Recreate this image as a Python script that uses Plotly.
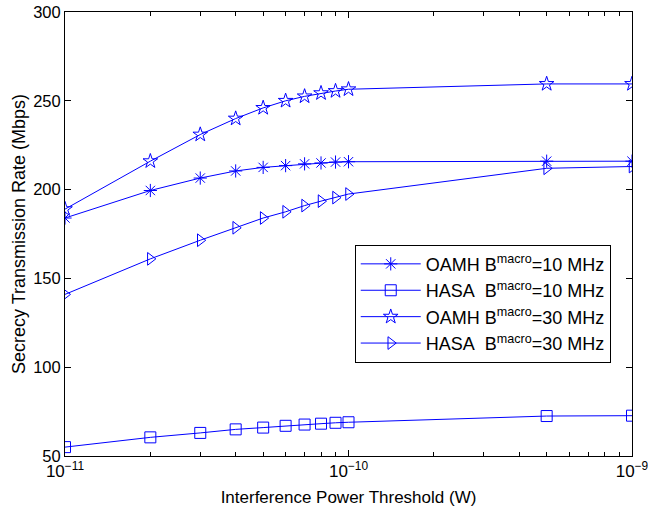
import plotly.graph_objects as go

x = [1e-11, 2e-11, 3e-11, 4e-11, 5e-11, 6e-11, 7e-11, 8e-11, 9e-11, 1e-10, 5e-10, 1e-9]
oamh10 = [184, 199.5, 206.5, 210.5, 212.5, 213.5, 214.5, 215, 215.5, 215.7, 216, 216]
hasa10 = [55, 60.5, 63, 65, 66, 67, 67.7, 68.2, 68.7, 69, 72.5, 72.7]
oamh30 = [189, 216, 231, 240, 246, 250, 252.5, 254.3, 255.5, 256.5, 259.5, 259.5]
hasa30 = [141, 161, 171.5, 178.5, 184, 187.5, 191, 193.5, 195.5, 197.5, 212, 213]

names = ["OAMH B<sup>macro</sup>=10 MHz", "HASA&nbsp; B<sup>macro</sup>=10 MHz",
         "OAMH B<sup>macro</sup>=30 MHz", "HASA&nbsp; B<sup>macro</sup>=30 MHz"]
symbols = ["asterisk-open", "square-open", "star-open", "triangle-right-open"]
series = [oamh10, hasa10, oamh30, hasa30]

xticks = [1e-11, 1e-10, 1e-9]
xticktext = ["10<sup>\u221211</sup>", "10<sup>\u221210</sup>", "10<sup>\u22129</sup>"]
yticks = [50, 100, 150, 200, 250, 300]

blue = "rgb(0,0,255)"
fig = go.Figure()
for ys, nm, sym in zip(series, names, symbols):
    fig.add_trace(go.Scatter(x=x, y=ys, mode="lines+markers", name=nm,
                             line=dict(color=blue, width=1),
                             marker=dict(symbol=sym, size=11, color=blue,
                                         line=dict(color=blue, width=1))))

minor_vals = [m * 10**e for e in (-11, -10) for m in range(2, 10)]

fig.update_layout(
    width=648, height=512,
    margin=dict(l=65, r=16, t=12, b=56),
    paper_bgcolor="white", plot_bgcolor="white",
    font=dict(family="Liberation Sans, Arial, sans-serif", size=16, color="black"),
    showlegend=True,
    legend=dict(x=0.511, y=0.476, xanchor="left", yanchor="top",
                bordercolor="black", borderwidth=1, bgcolor="white",
                font=dict(size=18), tracegroupgap=0, itemwidth=60),
    xaxis=dict(type="log", range=[-11, -9], tickvals=xticks, ticktext=xticktext,
               ticks="inside", ticklen=6, tickcolor="black", showline=True,
               linecolor="black", linewidth=1, mirror="ticks", showgrid=False,
               zeroline=False, tickfont=dict(size=17), automargin=False,
               ticklabeloverflow="allow",
               minor=dict(tickvals=minor_vals, ticks="inside", ticklen=4, tickcolor="black", showgrid=False),
               title=dict(text="Interference Power Threshold (W)", font=dict(size=17), standoff=10)),
    yaxis=dict(range=[50, 300], tickvals=yticks, ticks="inside", ticklen=6,
               tickcolor="black", showline=True, linecolor="black", linewidth=1,
               mirror="ticks", showgrid=False, zeroline=False, tickfont=dict(size=16.5),
               automargin=False, ticklabeloverflow="allow",
               title=dict(text="Secrecy Transmission Rate (Mbps)", font=dict(size=18), standoff=2)),
)

fig.write_html("out.html", config={"displayModeBar": False},
               post_script="document.body.style.margin='0';document.body.style.overflow='hidden';")
